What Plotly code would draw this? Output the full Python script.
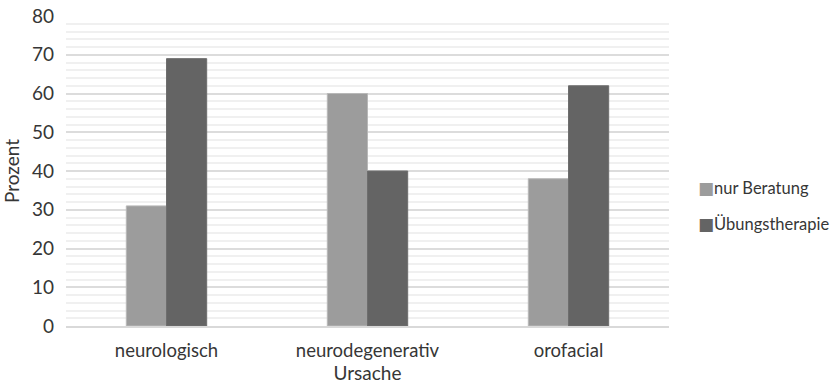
import plotly.graph_objects as go

categories = ["neurologisch", "neurodegenerativ", "orofacial"]
series_names = ["nur Beratung", "Übungstherapie"]
nur_beratung = [31, 60, 38]
uebungstherapie = [69, 40, 62]
y_ticks = [0, 10, 20, 30, 40, 50, 60, 70, 80]

font_family = "Lato, Open Sans, sans-serif"
text_color = "#363636"
colors = ["#9c9c9c", "#646464"]
edge_colors = ["#b8b8b8", "#6e6e6e"]

fig = go.Figure()
for name, values, col, edge in zip(series_names, [nur_beratung, uebungstherapie], colors, edge_colors):
    fig.add_trace(go.Bar(
        x=categories, y=values, name=name,
        marker=dict(color=col, line=dict(color=edge, width=1)),
        showlegend=False,
    ))

# Compact legend: coloured square glyph directly followed by the series name
legend_y = [0.445, 0.329]
for name, col, ly in zip(series_names, colors, legend_y):
    fig.add_annotation(
        xref="paper", yref="paper", x=1.044, y=ly,
        xanchor="left", yanchor="middle", showarrow=False,
        text=f'<span style="color:{col};font-family:DejaVu Sans;font-size:17px">■</span>{name}',
        font=dict(family=font_family, size=16.5, color=text_color),
    )

fig.update_layout(
    width=837, height=386,
    margin=dict(l=66, r=168, t=16, b=60, autoexpand=False),
    paper_bgcolor="white", plot_bgcolor="white",
    barmode="group", bargap=0.6, bargroupgap=0,
    font=dict(family=font_family, size=18, color=text_color),
    xaxis=dict(
        title=dict(text="Ursache", font=dict(size=19), standoff=5),
        showgrid=False, showline=True, linecolor="#d9d9d9", linewidth=1.5,
        ticks="", tickfont=dict(size=18.5), ticklabelstandoff=7,
        automargin=False,
    ),
    yaxis=dict(
        title=dict(text="Prozent", font=dict(size=19), standoff=10),
        range=[0, 80], tickvals=y_ticks,
        showgrid=True, gridcolor="#dcdcdc", gridwidth=1.5,
        minor=dict(dtick=2, showgrid=True, gridcolor="#f0f0f0", gridwidth=1.5),
        zeroline=False, showline=False, ticks="",
        tickfont=dict(size=19), ticklabelstandoff=11,
        automargin=False,
    ),
)

fig.write_html("out.html")
